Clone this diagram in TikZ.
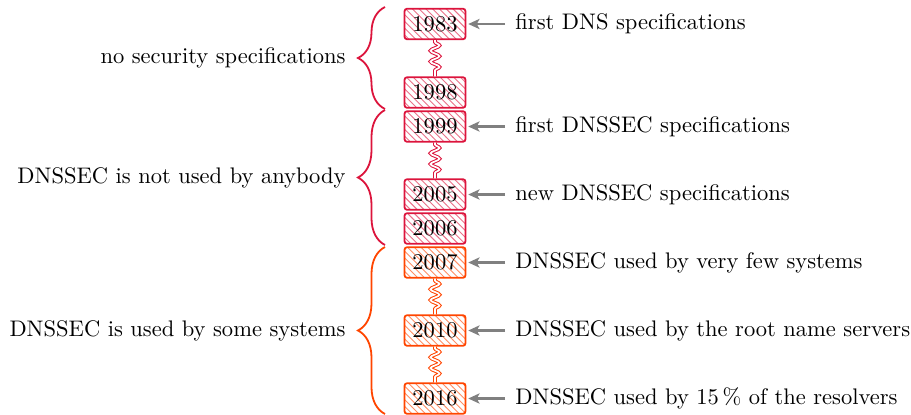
\documentclass[tikz,border=0pt]{standalone}
\usetikzlibrary{patterns,decorations.pathreplacing,decorations.pathmorphing,arrows.meta}
\definecolor{cred}{RGB}{220,20,60}
\definecolor{corange}{RGB}{255,69,0}
\begin{document}
\begin{tikzpicture}[x=0.444pt,y=-0.444pt,
  yearbox/.style={draw=#1, thick, rounded corners=1.2pt, pattern=north west lines,
    pattern color=#1!60, minimum height=13.6pt, minimum width=27.1pt, inner sep=0pt},
  snakeline/.style={draw=#1, line width=0.45pt, double=white, double distance=0.75pt,
    decorate, decoration={snake, amplitude=2pt, segment length=4.8pt,
    pre length=0.8pt, post length=1pt}},
  bracedeco/.style={draw=#1, thick, decorate, decoration={brace, amplitude=12pt}},
  bracelabel/.style={anchor=east, inner sep=0pt},
  note/.style={anchor=west, inner sep=0pt},
  arr/.style={draw=gray, line width=1pt, -{Stealth[length=5pt,width=4.5pt,inset=1.2pt]},
    shorten <=4.4pt, shorten >=0.8pt}]
\useasboundingbox (0,0) rectangle (911,414);

% year boxes
\node[yearbox=cred] (y1983) at (435,24) {1983};
\node[yearbox=cred] (y1998) at (435,92.5) {1998};
\node[yearbox=cred] (y1999) at (435,126.5) {1999};
\node[yearbox=cred] (y2005) at (435,194.5) {2005};
\node[yearbox=cred] (y2006) at (435,228.5) {2006};
\node[yearbox=corange] (y2007) at (435,262.5) {2007};
\node[yearbox=corange] (y2010) at (435,330.5) {2010};
\node[yearbox=corange] (y2016) at (435,398.5) {2016};

% snakes
\draw[snakeline=cred] (y1983.south) -- (y1998.north);
\draw[snakeline=cred] (y1999.south) -- (y2005.north);
\draw[snakeline=corange] (y2007.south) -- (y2010.north);
\draw[snakeline=corange] (y2010.south) -- (y2016.north);

% notes
\node[note] (n1983) at (515,24) {first DNS specifications};
\node[note] (n1999) at (515,126.5) {first DNSSEC specifications};
\node[note] (n2005) at (515,194.5) {new DNSSEC specifications};
\node[note] (n2007) at (515,262.5) {DNSSEC used by very few systems};
\node[note] (n2010) at (515,330.5) {DNSSEC used by the root name servers};
\node[note] (n2016) at (515,398.5) {DNSSEC used by 15\,\% of the resolvers};

\draw[arr] (n1983.west) -- (y1983.east);
\draw[arr] (n1999.west) -- (y1999.east);
\draw[arr] (n2005.west) -- (y2005.east);
\draw[arr] (n2007.west) -- (y2007.east);
\draw[arr] (n2010.west) -- (y2010.east);
\draw[arr] (n2016.west) -- (y2016.east);

% braces
\coordinate (b1top) at (385,7);
\coordinate (b1bot) at (385,109);
\coordinate (b2top) at (385,110);
\coordinate (b2bot) at (385,245);
\coordinate (b3top) at (385,247);
\coordinate (b3bot) at (385,414);
\draw[bracedeco=cred] (b1bot) -- (b1top);
\draw[bracedeco=cred] (b2bot) -- (b2top);
\draw[bracedeco=corange] (b3bot) -- (b3top);

\node[bracelabel] (l1) at (346,58) {no security specifications};
\node[bracelabel] (l2) at (346,177.5) {DNSSEC is not used by anybody};
\node[bracelabel] (l3) at (346,330.5) {DNSSEC is used by some systems};
\end{tikzpicture}
\end{document}
